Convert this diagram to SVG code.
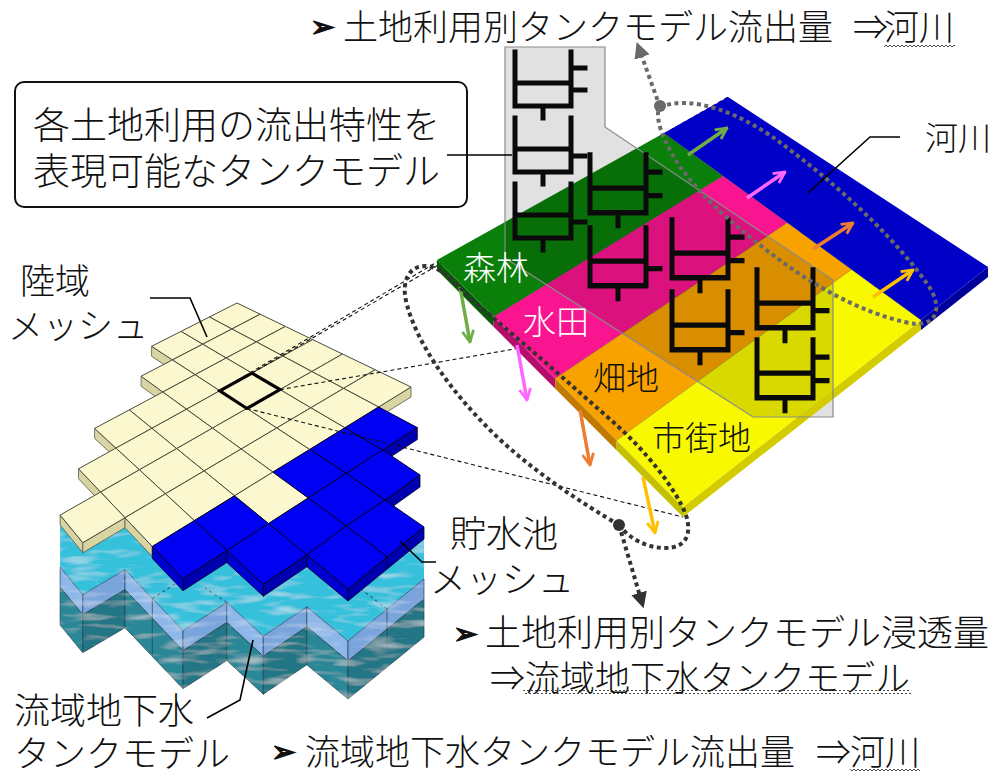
<svg xmlns="http://www.w3.org/2000/svg" width="995" height="778" viewBox="0 0 995 778">
<defs>
<style>
.t{font-family:"Noto Sans CJK JP","Noto Sans CJK SC",sans-serif;font-weight:300;fill:#111}
.w{fill:#fff}
.bul{font-family:"DejaVu Sans",sans-serif;font-weight:bold;fill:#111;stroke:#111;stroke-width:1.2}
.cr{fill:#fbf8cf;stroke:#4a4a3c;stroke-width:1}
.bl{fill:#0000f2;stroke:#00002a;stroke-width:1}
.cs{fill:#d9d4a3;stroke:#5a5a44;stroke-width:.8}
.bsr{fill:#0000b0;stroke:#00002a;stroke-width:.8}
.bsb{fill:#0000d0;stroke:#00002a;stroke-width:.8}
.wu{fill:#8db7e8;stroke:#2a3f5a;stroke-width:.7}
.wur{fill:#79a5dc;stroke:#2a3f5a;stroke-width:.7}
.wl{fill:#2a8797;stroke:#1f3f48;stroke-width:.7}
.wlr{fill:#237685;stroke:#1f3f48;stroke-width:.7}
.lead{fill:none;stroke:#000;stroke-width:1.6}
.dash{fill:none;stroke:#111;stroke-width:1.1;stroke-dasharray:4 3}
.tk path{fill:none;stroke:#0a0a0a;stroke-width:5;stroke-linecap:square}
.dotg{fill:none;stroke:#6a6a6a;stroke-width:4;stroke-dasharray:4 3.5}
.dotk{fill:none;stroke:#333;stroke-width:4;stroke-dasharray:4 3.5}
</style>
<marker id="chG" viewBox="0 0 10 10" refX="9" refY="5" markerWidth="14" markerHeight="14" markerUnits="userSpaceOnUse" orient="auto"><path d="M1,1L9,5L1,9" fill="none" stroke="#70ad47" stroke-width="2"/></marker>
<marker id="chP" viewBox="0 0 10 10" refX="9" refY="5" markerWidth="14" markerHeight="14" markerUnits="userSpaceOnUse" orient="auto"><path d="M1,1L9,5L1,9" fill="none" stroke="#ff66ff" stroke-width="2"/></marker>
<marker id="chO" viewBox="0 0 10 10" refX="9" refY="5" markerWidth="14" markerHeight="14" markerUnits="userSpaceOnUse" orient="auto"><path d="M1,1L9,5L1,9" fill="none" stroke="#ed7d31" stroke-width="2"/></marker>
<marker id="chY" viewBox="0 0 10 10" refX="9" refY="5" markerWidth="14" markerHeight="14" markerUnits="userSpaceOnUse" orient="auto"><path d="M1,1L9,5L1,9" fill="none" stroke="#ffc000" stroke-width="2"/></marker>
<marker id="triG" viewBox="0 0 10 10" refX="2" refY="5" markerWidth="16" markerHeight="16" markerUnits="userSpaceOnUse" orient="auto"><path d="M0,0L10,5L0,10Z" fill="#6a6a6a"/></marker>
<marker id="triK" viewBox="0 0 10 10" refX="2" refY="5" markerWidth="16" markerHeight="16" markerUnits="userSpaceOnUse" orient="auto"><path d="M0,0L10,5L0,10Z" fill="#333"/></marker>
<pattern id="wav" width="4" height="4" patternUnits="userSpaceOnUse"><path d="M0,3L2,1L4,3" fill="none" stroke="#333" stroke-width=".9"/></pattern>
<filter id="ripple">
<feTurbulence type="fractalNoise" baseFrequency="0.03 0.14" numOctaves="2" seed="7" result="n"/>
<feColorMatrix in="n" type="matrix" values="0 0 0 0 1 0 0 0 0 1 0 0 0 0 1 0.9 0 0 0 -0.44" result="wt"/>
<feComposite in="wt" in2="SourceGraphic" operator="in" result="wm"/>
<feMerge><feMergeNode in="SourceGraphic"/><feMergeNode in="wm"/></feMerge>
</filter>
<clipPath id="landClip"><path d="M437,260L664,133L921,320L683,507Z"/></clipPath>
<g id="tk2" class="tk"><path d="M0,0V54M56,0V54M0,31H56M0,54H56M28,54V66M56,16H70M56,38H70"/></g>
<g id="tk1" class="tk"><path d="M0,0V54M56,0V54M0,31H56M0,54H56M28,54V66M56,38H70"/></g>
</defs>

<rect width="995" height="778" fill="#fff"/>

<!-- groundwater tank under the mesh -->
<g id="groundwater-tank" filter="url(#ripple)">
<path fill="#36c0dc" d="M60.1,567.1L82.8,594.7L125,569.7L152.3,598.5L183,630.7L226.8,602.5L263.3,636.2L306.8,606.8L348,641L387,609L424,579L424,527L348,589L306.8,554.8L263.3,584.2L226.8,550.5L183,578.7L125,517.7L82.8,542.7L60.1,515.1Z"/>
<path class="wu" d="M60.1,567.1L82.8,594.7L82.8,614.7L60.1,587.1Z"/>
<path class="wl" d="M60.1,587.1L82.8,614.7L82.8,652.7L60.1,625.1Z"/>
<path class="wur" d="M82.8,594.7L125,569.7L125,589.7L82.8,614.7Z"/>
<path class="wlr" d="M82.8,614.7L125,589.7L125,627.7L82.8,652.7Z"/>
<path class="wu" d="M125,569.7L183,630.7L183,650.7L125,589.7Z"/>
<path class="wl" d="M125,589.7L183,650.7L183,688.7L125,627.7Z"/>
<path class="wur" d="M183,630.7L226.8,602.5L226.8,622.5L183,650.7Z"/>
<path class="wlr" d="M183,650.7L226.8,622.5L226.8,660.5L183,688.7Z"/>
<path class="wu" d="M226.8,602.5L263.3,636.2L263.3,656.2L226.8,622.5Z"/>
<path class="wl" d="M226.8,622.5L263.3,656.2L263.3,694.2L226.8,660.5Z"/>
<path class="wur" d="M263.3,636.2L306.8,606.8L306.8,626.8L263.3,656.2Z"/>
<path class="wlr" d="M263.3,656.2L306.8,626.8L306.8,664.8L263.3,694.2Z"/>
<path class="wu" d="M306.8,606.8L348,641L348,661L306.8,626.8Z"/>
<path class="wl" d="M306.8,626.8L348,661L348,699L306.8,664.8Z"/>
<path class="wur" d="M348,641L424,579L424,599L348,661Z"/>
<path class="wlr" d="M348,661L424,599L424,637L348,699Z"/>
<path d="M152.3,598.5V656.5M387,609V647" stroke="#1f3f48" stroke-width=".7"/>
<path d="M152.3,598.5L180,581M387,609L362,590M226.8,602.5L205,588" stroke="#1a2a3a" stroke-width=".9" stroke-dasharray="3 3"/>
</g>

<!-- land mesh -->
<g id="land-mesh">
<path class="cs" d="M411,387L378.6,407L378.6,417L411,397Z"/>
<path class="cs" d="M151.6,346.3L172.4,359.9L172.4,369.9L151.6,356.3Z"/>
<path class="cs" d="M141.1,376.2L162.8,392L162.8,402L141.1,386.2Z"/>
<path class="cs" d="M94.6,428.4L115.9,448.1L115.9,458.1L94.6,438.4Z"/>
<path class="cs" d="M78.5,468.8L100.6,492L100.6,502L78.5,478.8Z"/>
<path class="cs" d="M60.1,515.1L82.8,542.7L82.8,552.7L60.1,525.1Z"/>
<path class="cs" d="M82.8,542.7L125,517.7L125,527.7L82.8,552.7Z"/>
<path class="cs" d="M125,517.7L152.3,546.5L152.3,556.5L125,527.7Z"/>
<path class="cr" d="M237,303L260.2,314.2L231.9,329L209.4,317Z"/>
<path class="cr" d="M260.2,314.2L285.4,326.4L256.3,341.9L231.9,329Z"/>
<path class="cr" d="M285.4,326.4L312.7,339.6L282.8,356L256.3,341.9Z"/>
<path class="cr" d="M312.7,339.6L342.5,354L311.8,371.5L282.8,356Z"/>
<path class="cr" d="M342.5,354L375.1,369.7L343.6,388.4L311.8,371.5Z"/>
<path class="cr" d="M375.1,369.7L411,387L378.6,407L343.6,388.4Z"/>
<path class="cr" d="M209.4,317L231.9,329L202.7,344.2L181,331.4Z"/>
<path class="cr" d="M231.9,329L256.3,341.9L226.2,358L202.7,344.2Z"/>
<path class="cr" d="M256.3,341.9L282.8,356L251.9,373.1L226.2,358Z"/>
<path class="cr" d="M282.8,356L311.8,371.5L280,389.6L251.9,373.1Z"/>
<path class="cr" d="M311.8,371.5L343.6,388.4L310.8,407.8L280,389.6Z"/>
<path class="cr" d="M343.6,388.4L378.6,407L344.9,427.8L310.8,407.8Z"/>
<path class="cr" d="M181,331.4L202.7,344.2L172.4,359.9L151.6,346.3Z"/>
<path class="cr" d="M202.7,344.2L226.2,358L195.1,374.7L172.4,359.9Z"/>
<path class="cr" d="M226.2,358L251.9,373.1L219.8,390.8L195.1,374.7Z"/>
<path class="cr" d="M251.9,373.1L280,389.6L246.9,408.5L219.8,390.8Z"/>
<path class="cr" d="M280,389.6L310.8,407.8L276.7,428L246.9,408.5Z"/>
<path class="cr" d="M310.8,407.8L344.9,427.8L309.7,449.5L276.7,428Z"/>
<path class="cr" d="M172.4,359.9L195.1,374.7L162.8,392L141.1,376.2Z"/>
<path class="cr" d="M195.1,374.7L219.8,390.8L186.5,409.2L162.8,392Z"/>
<path class="cr" d="M219.8,390.8L246.9,408.5L212.5,428.1L186.5,409.2Z"/>
<path class="cr" d="M246.9,408.5L276.7,428L241.2,449L212.5,428.1Z"/>
<path class="cr" d="M276.7,428L309.7,449.5L272.9,472.1L241.2,449Z"/>
<path class="cr" d="M162.8,392L186.5,409.2L151.9,428.3L129.3,409.9Z"/>
<path class="cr" d="M186.5,409.2L212.5,428.1L176.7,448.6L151.9,428.3Z"/>
<path class="cr" d="M212.5,428.1L241.2,449L204.1,470.9L176.7,448.6Z"/>
<path class="cr" d="M241.2,449L272.9,472.1L234.5,495.8L204.1,470.9Z"/>
<path class="cr" d="M272.9,472.1L308.3,497.9L268.5,523.6L234.5,495.8Z"/>
<path class="cr" d="M129.3,409.9L151.9,428.3L115.9,448.1L94.6,428.4Z"/>
<path class="cr" d="M151.9,428.3L176.7,448.6L139.4,469.8L115.9,448.1Z"/>
<path class="cr" d="M176.7,448.6L204.1,470.9L165.4,493.8L139.4,469.8Z"/>
<path class="cr" d="M204.1,470.9L234.5,495.8L194.4,520.6L165.4,493.8Z"/>
<path class="cr" d="M115.9,448.1L139.4,469.8L100.6,492L78.5,468.8Z"/>
<path class="cr" d="M139.4,469.8L165.4,493.8L125,517.7L100.6,492Z"/>
<path class="cr" d="M165.4,493.8L194.4,520.6L152.3,546.5L125,517.7Z"/>
<path class="cr" d="M100.6,492L125,517.7L82.8,542.7L60.1,515.1Z"/>
<path d="M251.9,373.1L280,389.6L246.9,408.5L219.8,390.8Z" fill="none" stroke="#000" stroke-width="3.2"/>
</g>

<!-- reservoir mesh -->
<g id="reservoir-mesh">
<path class="bsr" d="M417.3,427.6L382.6,450L382.6,462L417.3,439.6Z"/>
<path class="bsr" d="M420,475L385,500L385,512L420,487Z"/>
<path class="bsr" d="M424,527L348,589L348,601L424,539Z"/>
<path class="bsb" d="M306.8,554.8L348,589L348,601L306.8,566.8Z"/>
<path class="bsr" d="M306.8,554.8L263.3,584.2L263.3,596.2L306.8,566.8Z"/>
<path class="bsb" d="M226.8,550.5L263.3,584.2L263.3,596.2L226.8,562.5Z"/>
<path class="bsr" d="M226.8,550.5L183,578.7L183,590.7L226.8,562.5Z"/>
<path class="bsb" d="M152.3,546.5L183,578.7L183,590.7L152.3,558.5Z"/>
<path d="M387,557V569" stroke="#00002a" stroke-width=".8"/>
<path class="bl" d="M378.6,407L417.3,427.6L382.6,450L344.9,427.8Z"/>
<path class="bl" d="M344.9,427.8L382.6,450L346.3,473.4L309.7,449.5Z"/>
<path class="bl" d="M382.6,450L420,475L385,500L346.3,473.4Z"/>
<path class="bl" d="M309.7,449.5L346.3,473.4L308.3,497.9L272.9,472.1Z"/>
<path class="bl" d="M346.3,473.4L385,500L346,526L308.3,497.9Z"/>
<path class="bl" d="M385,500L424,527L387,557L346,526Z"/>
<path class="bl" d="M308.3,497.9L346,526L306.8,554.8L268.5,523.6Z"/>
<path class="bl" d="M346,526L387,557L348,589L306.8,554.8Z"/>
<path class="bl" d="M234.5,495.8L268.5,523.6L226.8,550.5L194.4,520.6Z"/>
<path class="bl" d="M268.5,523.6L306.8,554.8L263.3,584.2L226.8,550.5Z"/>
<path class="bl" d="M194.4,520.6L226.8,550.5L183,578.7L152.3,546.5Z"/>
</g>

<!-- projection lines from the marked mesh cell -->
<g id="connectors">
<path class="dash" d="M219.8,390.8L437,262M251.9,373.1L728,97M280,389.6L988,267M246.9,408.5L683,517"/>
</g>

<!-- land use plate -->
<g id="land-use-plate">
<path d="M505,47H605V127L833,280V417H753L505,258Z" fill="#e1e1e1"/>
<path d="M437,260L493.6,316.8L493.6,326.8L437,270Z" fill="#075a07"/>
<path d="M493.6,316.8L555.1,378.6L555.1,388.6L493.6,326.8Z" fill="#b50d6c"/>
<path d="M555.1,378.6L616.6,440.3L616.6,450.3L555.1,388.6Z" fill="#c07a00"/>
<path d="M616.6,440.3L683,507L683,517L616.6,450.3Z" fill="#c4c000"/>
<path d="M683,507L921,320L921,330L683,517Z" fill="#d2cc00"/>
<path d="M921,320L988,267L988,277L921,330Z" fill="#00009a"/>
<path d="M437,260L664,133L723,176L493.6,316.8Z" fill="#0a7f0a"/>
<path d="M493.6,316.8L723,176L787.3,222.7L555.1,378.6Z" fill="#fa1590"/>
<path d="M555.1,378.6L787.3,222.7L851.6,269.4L616.6,440.3Z" fill="#f8a200"/>
<path d="M616.6,440.3L851.6,269.4L921,320L683,507Z" fill="#f8f800"/>
<path d="M664,133L728,97L988,267L921,320Z" fill="#0000c6"/>
<path d="M505,47H605V127L833,280V417H753L505,258Z" fill="#000" fill-opacity=".12" clip-path="url(#landClip)"/>
<path d="M493.6,316.8L723,176M555.1,378.6L787.3,222.7M616.6,440.3L851.6,269.4M664,133L921,320" stroke="#000" stroke-opacity=".3" stroke-width=".8" fill="none"/>
<path d="M505,47H605V127L833,280V417H753L505,258Z" fill="none" stroke="#8a8a8a" stroke-width="1.2"/>
</g>

<!-- tank models -->
<g id="tank-forest"><use href="#tk2" transform="translate(515,52)"/><use href="#tk1" transform="translate(515,118)"/><use href="#tk1" transform="translate(515,184)"/></g>
<g id="tank-paddy"><use href="#tk2" transform="translate(590,155) scale(1,1.07)"/><use href="#tk1" transform="translate(590,228) scale(1,1.07)"/></g>
<g id="tank-field"><use href="#tk2" transform="translate(672,220) scale(1,1.07)"/><use href="#tk1" transform="translate(672,292) scale(1,1.07)"/></g>
<g id="tank-urban"><use href="#tk1" transform="translate(757,270) scale(1,1.07)"/><use href="#tk2" transform="translate(757,340) scale(1,1.07)"/></g>

<!-- flows, loops and leaders -->
<g id="flows">
<path d="M688,155L727,128" stroke="#70ad47" stroke-width="3.5" marker-end="url(#chG)"/>
<path d="M747,198L785,172" stroke="#ff66ff" stroke-width="3.5" marker-end="url(#chP)"/>
<path d="M813,249L853,223" stroke="#ed7d31" stroke-width="3.5" marker-end="url(#chO)"/>
<path d="M873,297L913,270" stroke="#ffc000" stroke-width="3.5" marker-end="url(#chY)"/>
<path d="M460,287L470,342" stroke="#70ad47" stroke-width="3.5" marker-end="url(#chG)"/>
<path d="M517,345L527,400" stroke="#ff66ff" stroke-width="3.5" marker-end="url(#chP)"/>
<path d="M580,410L590,465" stroke="#ed7d31" stroke-width="3.5" marker-end="url(#chO)"/>
<path d="M643,477L655,533" stroke="#ffc000" stroke-width="3.5" marker-end="url(#chY)"/>
<path class="dotg" d="M660,107C690,95 740,110 790,150C850,195 900,245 928,285C945,310 935,330 905,322C860,312 810,285 760,245C715,210 680,175 665,140C658,125 656,112 660,107Z"/>
<path class="dotg" d="M660,107L641,54" marker-end="url(#triG)"/>
<circle cx="660" cy="106" r="6" fill="#6a6a6a"/>
<path class="dotk" d="M619,525C585,505 530,470 490,430C450,390 418,345 407,305C400,280 410,266 425,266C440,266 455,282 470,298L545,362L612,421C645,450 675,487 686,515C692,535 686,548 665,548C645,548 628,537 619,525Z"/>
<path class="dotk" d="M619,525L640,596" marker-end="url(#triK)"/>
<circle cx="619" cy="525" r="6" fill="#333"/>
<path class="lead" d="M447,155H512"/>
<path class="lead" d="M150,298H190L207,337"/>
<path class="lead" d="M900,137H870L808,193"/>
<path class="lead" d="M400,541L422,562H436"/>
<path class="lead" d="M253,640L240,700L207,718"/>
</g>

<!-- labels -->
<g id="labels">
<rect x="15" y="82" width="452" height="125" rx="9" fill="none" stroke="#111" stroke-width="2"/>
<text class="t" font-size="37"><tspan x="33" y="139">各土地利用の流出特性を</tspan><tspan x="33" y="185">表現可能なタンクモデル</tspan></text>
<text class="bul" x="310" y="37" font-size="30">➢</text>
<text class="t" font-size="35" y="40"><tspan x="343">土地利用別タンクモデル流出量</tspan><tspan x="853">⇒</tspan><tspan x="884">河川</tspan></text>
<rect x="884" y="43" width="71" height="4" fill="url(#wav)"/>
<text class="t" font-size="35"><tspan x="20" y="294">陸域</tspan><tspan x="8" y="339">メッシュ</tspan></text>
<text class="t" font-size="33" x="925" y="150">河川</text>
<text class="t w" font-size="33" x="463" y="280">森林</text>
<text class="t w" font-size="33" x="523" y="334">水田</text>
<text class="t" font-size="33" x="593" y="390">畑地</text>
<text class="t" font-size="33" x="652" y="450">市街地</text>
<text class="t" font-size="36"><tspan x="450" y="547">貯水池</tspan><tspan x="430" y="593">メッシュ</tspan></text>
<text class="t" font-size="36"><tspan x="14" y="724">流域地下水</tspan><tspan x="14" y="767">タンクモデル</tspan></text>
<text class="bul" x="453" y="644" font-size="30">➢</text>
<text class="t" font-size="36" x="485" y="646">土地利用別タンクモデル浸透量</text>
<text class="t" font-size="35" x="490" y="691">⇒流域地下水タンクモデル</text>
<rect x="523" y="690" width="388" height="4" fill="url(#wav)"/>
<text class="bul" x="271" y="762" font-size="30">➢</text>
<text class="t" font-size="35" y="765"><tspan x="305">流域地下水タンクモデル流出量</tspan><tspan x="816">⇒</tspan><tspan x="850">河川</tspan></text>
<rect x="850" y="768" width="70" height="4" fill="url(#wav)"/>
</g>
</svg>
